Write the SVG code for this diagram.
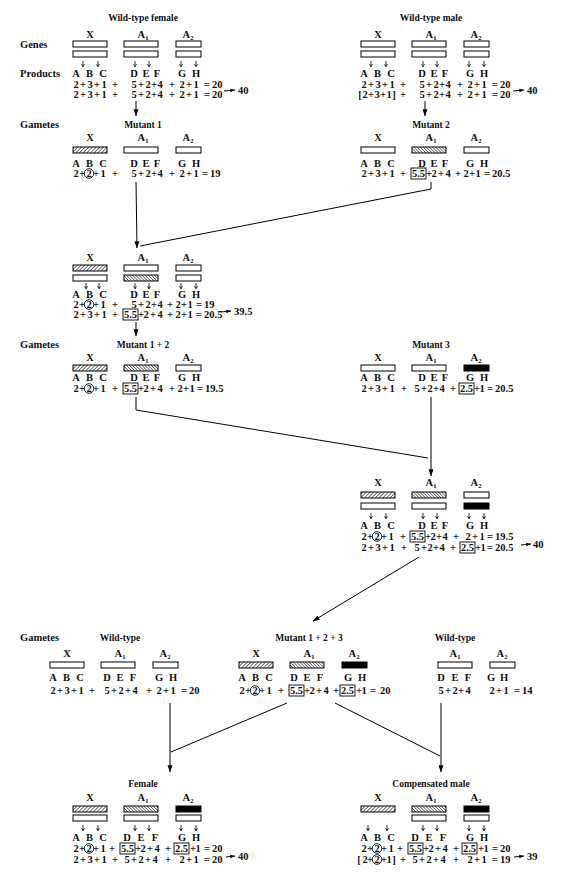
<svg xmlns="http://www.w3.org/2000/svg" width="564" height="880" viewBox="0 0 564 880">
<style>
text{font-family:"Liberation Serif","Times New Roman",serif;font-size:10.5px;fill:#111;font-weight:bold}
.c{text-anchor:middle}
.ttl{text-anchor:middle;font-size:9.5px}
.sub{font-size:6.5px}
.bx{fill:#fff;stroke:#000;stroke-width:1}
.hf{fill:url(#hf);stroke:#000;stroke-width:1}
.hb{fill:url(#hb);stroke:#000;stroke-width:1}
.bk{fill:#000;stroke:#000;stroke-width:1}
.ring{fill:none;stroke:#000;stroke-width:0.9}
.cn{fill:none;stroke:#000;stroke-width:1}
.sa{fill:none;stroke:#000;stroke-width:0.8}
</style>
<defs>
<pattern id="hf" patternUnits="userSpaceOnUse" width="2.6" height="2.6" patternTransform="rotate(45)"><rect width="2.6" height="2.6" fill="#fff"/><line x1="0" y1="0" x2="0" y2="2.6" stroke="#000" stroke-width="1.1"/></pattern>
<pattern id="hb" patternUnits="userSpaceOnUse" width="2.2" height="2.2" patternTransform="rotate(-45)"><rect width="2.2" height="2.2" fill="#fff"/><line x1="0" y1="0" x2="0" y2="2.2" stroke="#000" stroke-width="1"/></pattern>
<marker id="ah" viewBox="0 0 10 10" refX="9.5" refY="5" markerWidth="7" markerHeight="7" orient="auto" markerUnits="userSpaceOnUse"><path d="M0,1.5 L10,5 L0,8.5 Z" fill="#000"/></marker>
<marker id="ahs" viewBox="0 0 10 10" refX="9.5" refY="5" markerWidth="5" markerHeight="5" orient="auto" markerUnits="userSpaceOnUse"><path d="M0,1.5 L10,5 L0,8.5 Z" fill="#000"/></marker>
<path id="sa" class="sa" d="M0,0 V5.5 M-1.5,3.2 L0,5.8 L1.5,3.2"/>
</defs>
<rect width="564" height="880" fill="#fff"/>

<g id="row-labels">
<text x="20" y="48">Genes</text>
<text x="20" y="77">Products</text>
<text x="20" y="128">Gametes</text>
<text x="20" y="348">Gametes</text>
<text x="20" y="641">Gametes</text>
</g>

<g id="wt-female">
<text class="ttl" x="143" y="21">Wild-type female</text>
<text class="c" x="90" y="38">X</text>
<text class="c" x="143" y="38">A<tspan class="sub" dy="2">1</tspan></text>
<text class="c" x="188" y="38">A<tspan class="sub" dy="2">2</tspan></text>
<rect class="bx" x="73" y="41" width="34" height="6"/><rect class="bx" x="73" y="51" width="34" height="6"/>
<rect class="bx" x="124" y="41" width="34" height="6"/><rect class="bx" x="124" y="51" width="34" height="6"/>
<rect class="bx" x="176" y="41" width="25" height="6"/><rect class="bx" x="176" y="51" width="25" height="6"/>
<use href="#sa" x="83" y="61"/><use href="#sa" x="98" y="61"/><use href="#sa" x="135" y="61"/><use href="#sa" x="149" y="61"/><use href="#sa" x="181" y="61"/><use href="#sa" x="196" y="61"/>
<text class="c" x="76 89.5 103 134 146 157 182 196" y="77">ABCDEFGH</text>
<text class="c" x="76 83 90 97 104 115 134 141 148 154 160 172 182 189 196 207" y="88">2+3+1+5+2+4+2+1=</text><text x="212" y="88">20</text>
<text class="c" x="76 83 90 97 104 115 134 141 148 154 160 172 182 189 196 207" y="98">2+3+1+5+2+4+2+1=</text><text x="212" y="98">20</text>
<text x="238" y="94">40</text>
</g>

<g id="wt-male" transform="translate(288,0)">
<text class="ttl" x="143" y="21">Wild-type male</text>
<text class="c" x="90" y="38">X</text>
<text class="c" x="143" y="38">A<tspan class="sub" dy="2">1</tspan></text>
<text class="c" x="188" y="38">A<tspan class="sub" dy="2">2</tspan></text>
<rect class="bx" x="73" y="41" width="34" height="6"/><rect class="bx" x="73" y="51" width="34" height="6"/>
<rect class="bx" x="124" y="41" width="34" height="6"/><rect class="bx" x="124" y="51" width="34" height="6"/>
<rect class="bx" x="176" y="41" width="25" height="6"/><rect class="bx" x="176" y="51" width="25" height="6"/>
<use href="#sa" x="83" y="61"/><use href="#sa" x="98" y="61"/><use href="#sa" x="135" y="61"/><use href="#sa" x="149" y="61"/><use href="#sa" x="181" y="61"/><use href="#sa" x="196" y="61"/>
<text class="c" x="76 89.5 103 134 146 157 182 196" y="77">ABCDEFGH</text>
<text class="c" x="76 83 90 97 104 115 134 141 148 154 160 172 182 189 196 207" y="88">2+3+1+5+2+4+2+1=</text><text x="212" y="88">20</text>
<text class="c" x="72 77 83 89 95 101 106 115 134 141 148 154 160 172 182 189 196 207" y="98">[2+3+1]+5+2+4+2+1=</text><text x="212" y="98">20</text>
<text x="239" y="94">40</text>
</g>

<g id="mutant1">
<text class="ttl" x="143" y="128">Mutant 1</text>
<text class="c" x="90" y="141">X</text>
<text class="c" x="143" y="141">A<tspan class="sub" dy="2">1</tspan></text>
<text class="c" x="188" y="141">A<tspan class="sub" dy="2">2</tspan></text>
<rect class="hf" x="73" y="147" width="34" height="6"/><rect class="bx" x="124" y="147" width="34" height="6"/><rect class="bx" x="176" y="147" width="25" height="6"/>
<text class="c" x="76 89.5 103 134 146 157 182 196" y="167">ABCDEFGH</text>
<text class="c" x="76 82" y="177">2+</text>
<circle class="ring" cx="89" cy="173.5" r="4.8"/><text class="c" x="89" y="177">2</text>
<text class="c" x="96 103 115 134 141 148 154 160 172 182 189 196 205" y="177">+1+5+2+4+2+1=</text>
<text x="210" y="177">19</text>
</g>

<g id="mutant2" transform="translate(288,0)">
<text class="ttl" x="143" y="128">Mutant 2</text>
<text class="c" x="90" y="141">X</text>
<text class="c" x="143" y="141">A<tspan class="sub" dy="2">1</tspan></text>
<text class="c" x="188" y="141">A<tspan class="sub" dy="2">2</tspan></text>
<rect class="bx" x="73" y="147" width="34" height="6"/><rect class="hb" x="124" y="147" width="34" height="6"/><rect class="bx" x="176" y="147" width="25" height="6"/>
<text class="c" x="76 89.5 103 134 146 157 182 196" y="167">ABCDEFGH</text>
<text class="c" x="76 83 90 97 104 115" y="177">2+3+1+</text>
<rect class="ring" x="123" y="168" width="15" height="11"/><text class="c" x="130.5" y="177">5.5</text>
<text class="c" x="141 146 153 160 170 178 184 190 199" y="177">+2+4+2+1=</text>
<text x="204" y="177">20.5</text>
</g>

<g id="zygote-1x2">
<text class="c" x="90" y="261">X</text>
<text class="c" x="143" y="261">A<tspan class="sub" dy="2">1</tspan></text>
<text class="c" x="188" y="261">A<tspan class="sub" dy="2">2</tspan></text>
<rect class="hf" x="73" y="265" width="34" height="6"/><rect class="bx" x="73" y="275" width="34" height="6"/>
<rect class="bx" x="124" y="265" width="34" height="6"/><rect class="hb" x="124" y="275" width="34" height="6"/>
<rect class="bx" x="176" y="265" width="25" height="6"/><rect class="bx" x="176" y="275" width="25" height="6"/>
<use href="#sa" x="86" y="283"/><use href="#sa" x="99" y="283"/><use href="#sa" x="135" y="283"/><use href="#sa" x="149" y="283"/><use href="#sa" x="181" y="283"/><use href="#sa" x="196" y="283"/>
<text class="c" x="76 89.5 103 134 146 157 182 196" y="298">ABCDEFGH</text>
<text class="c" x="76 82" y="308">2+</text>
<circle class="ring" cx="89" cy="304.5" r="4.8"/><text class="c" x="89" y="308">2</text>
<text class="c" x="96 103 115 134 141 148 154 160 170 178 184 190 199" y="308">+1+5+2+4+2+1=</text>
<text x="204" y="308">19</text>
<text class="c" x="76 83 90 97 104 115" y="318">2+3+1+</text>
<rect class="ring" x="123" y="309" width="15" height="11"/><text class="c" x="130.5" y="318">5.5</text>
<text class="c" x="141 146 153 160 170 178 184 190 199" y="318">+2+4+2+1=</text>
<text x="204" y="318">20.5</text>
<text x="234" y="315">39.5</text>
</g>

<g id="mutant12">
<text class="ttl" x="143" y="348">Mutant 1 + 2</text>
<text class="c" x="90" y="361">X</text>
<text class="c" x="143" y="361">A<tspan class="sub" dy="2">1</tspan></text>
<text class="c" x="188" y="361">A<tspan class="sub" dy="2">2</tspan></text>
<rect class="hf" x="73" y="365" width="34" height="6"/><rect class="hb" x="124" y="365" width="34" height="6"/><rect class="bx" x="176" y="365" width="25" height="6"/>
<text class="c" x="76 89.5 103 134 146 157 182 196" y="381">ABCDEFGH</text>
<text class="c" x="76 82" y="392">2+</text>
<circle class="ring" cx="89" cy="388.5" r="4.8"/><text class="c" x="89" y="392">2</text>
<text class="c" x="96 103 115" y="392">+1+</text>
<rect class="ring" x="123" y="383" width="15" height="11"/><text class="c" x="130.5" y="392">5.5</text>
<text class="c" x="141 146 153 160 172 180 186 192 200" y="392">+2+4+2+1=</text>
<text x="205" y="392">19.5</text>
</g>

<g id="mutant3" transform="translate(288,0)">
<text class="ttl" x="143" y="348">Mutant 3</text>
<text class="c" x="90" y="361">X</text>
<text class="c" x="143" y="361">A<tspan class="sub" dy="2">1</tspan></text>
<text class="c" x="188" y="361">A<tspan class="sub" dy="2">2</tspan></text>
<rect class="bx" x="73" y="365" width="34" height="6"/><rect class="bx" x="124" y="365" width="34" height="6"/><rect class="bk" x="176" y="365" width="25" height="6"/>
<text class="c" x="76 89.5 103 134 146 157 182 196" y="381">ABCDEFGH</text>
<text class="c" x="76 83 90 97 104 116 129 136 142 148 154 165" y="392">2+3+1+5+2+4+</text>
<rect class="ring" x="171" y="383" width="15" height="11"/><text class="c" x="178.5" y="392">2.5</text>
<text class="c" x="189 194 202" y="392">+1=</text>
<text x="207" y="392">20.5</text>
</g>

<g id="zygote-12x3" transform="translate(288,0)">
<text class="c" x="90" y="486">X</text>
<text class="c" x="143" y="486">A<tspan class="sub" dy="2">1</tspan></text>
<text class="c" x="188" y="486">A<tspan class="sub" dy="2">2</tspan></text>
<rect class="hf" x="73" y="492" width="34" height="6"/><rect class="bx" x="73" y="503" width="34" height="6"/>
<rect class="hb" x="124" y="492" width="34" height="6"/><rect class="bx" x="124" y="503" width="34" height="6"/>
<rect class="bx" x="176" y="492" width="25" height="6"/><rect class="bk" x="176" y="503" width="25" height="6"/>
<use href="#sa" x="83" y="513"/><use href="#sa" x="98" y="513"/><use href="#sa" x="135" y="513"/><use href="#sa" x="149" y="513"/><use href="#sa" x="181" y="513"/><use href="#sa" x="196" y="513"/>
<text class="c" x="76 89.5 103 134 146 157 182 196" y="529">ABCDEFGH</text>
<text class="c" x="76 82" y="540">2+</text>
<circle class="ring" cx="89" cy="536.5" r="4.8"/><text class="c" x="89" y="540">2</text>
<text class="c" x="96 103 115" y="540">+1+</text>
<rect class="ring" x="122" y="531" width="15" height="11"/><text class="c" x="129.5" y="540">5.5</text>
<text class="c" x="140 145 151 157 168 180 187 194 202" y="540">+2+4+2+1=</text>
<text x="207" y="540">19.5</text>
<text class="c" x="76 83 90 97 104 116 129 136 142 148 154 165" y="551">2+3+1+5+2+4+</text>
<rect class="ring" x="172" y="542" width="15" height="11"/><text class="c" x="179.5" y="551">2.5</text>
<text class="c" x="190 195 202" y="551">+1=</text>
<text x="207" y="551">20.5</text>
<text x="245" y="548">40</text>
</g>

<g id="gamete-wt-left" transform="translate(-23,0)">
<text class="ttl" x="143" y="641">Wild-type</text>
<text class="c" x="90" y="657">X</text>
<text class="c" x="143" y="657">A<tspan class="sub" dy="2">1</tspan></text>
<text class="c" x="188" y="657">A<tspan class="sub" dy="2">2</tspan></text>
<rect class="bx" x="73" y="662" width="34" height="6"/><rect class="bx" x="124" y="662" width="34" height="6"/><rect class="bx" x="176" y="662" width="25" height="6"/>
<text class="c" x="76 89.5 103 130 143 156 182 196" y="681">ABCDEFGH</text>
<text class="c" x="76 83 90 97 104 115 130 137 144 151 158 172 182 189 196 207" y="694">2+3+1+5+2+4+2+1=</text><text x="212" y="694">20</text>
</g>

<g id="mutant123" transform="translate(166,0)">
<text class="ttl" x="143" y="641">Mutant 1 + 2 + 3</text>
<text class="c" x="90" y="657">X</text>
<text class="c" x="143" y="657">A<tspan class="sub" dy="2">1</tspan></text>
<text class="c" x="188" y="657">A<tspan class="sub" dy="2">2</tspan></text>
<rect class="hf" x="73" y="662" width="34" height="6"/><rect class="hb" x="124" y="662" width="34" height="6"/><rect class="bk" x="176" y="662" width="25" height="6"/>
<text class="c" x="76 89.5 103 128 141 154 182 196" y="681">ABCDEFGH</text>
<text class="c" x="76 82" y="694">2+</text>
<circle class="ring" cx="89" cy="690.5" r="4.8"/><text class="c" x="89" y="694">2</text>
<text class="c" x="96 103 115" y="694">+1+</text>
<rect class="ring" x="123" y="685" width="15" height="11"/><text class="c" x="130.5" y="694">5.5</text>
<text class="c" x="141 146 153 160 170" y="694">+2+4+</text>
<rect class="ring" x="174" y="685" width="15" height="11"/><text class="c" x="181.5" y="694">2.5</text>
<text class="c" x="193 198 207" y="694">+1=</text>
<text x="214" y="694">20</text>
</g>

<g id="gamete-wt-right" transform="translate(314,0)">
<text class="ttl" x="141" y="641">Wild-type</text>
<text class="c" x="141" y="657">A<tspan class="sub" dy="2">1</tspan></text>
<text class="c" x="188" y="657">A<tspan class="sub" dy="2">2</tspan></text>
<rect class="bx" x="124" y="662" width="34" height="6"/><rect class="bx" x="176" y="662" width="25" height="6"/>
<text class="c" x="127 141 154 177 190" y="681">DEFGH</text>
<text class="c" x="127 134 141 147 154" y="694">5+2+4</text>
<text class="c" x="178 185 192 203" y="694">2+1=</text><text x="208" y="694">14</text>
</g>

<g id="female">
<text class="ttl" x="143" y="787">Female</text>
<text class="c" x="90" y="801">X</text>
<text class="c" x="143" y="801">A<tspan class="sub" dy="2">1</tspan></text>
<text class="c" x="188" y="801">A<tspan class="sub" dy="2">2</tspan></text>
<rect class="hf" x="73" y="806" width="34" height="6"/><rect class="bx" x="73" y="815" width="34" height="6"/>
<rect class="hb" x="124" y="806" width="34" height="6"/><rect class="bx" x="124" y="815" width="34" height="6"/>
<rect class="bk" x="176" y="806" width="25" height="6"/><rect class="bx" x="176" y="815" width="25" height="6"/>
<use href="#sa" x="83" y="825"/><use href="#sa" x="98" y="825"/><use href="#sa" x="135" y="825"/><use href="#sa" x="149" y="825"/><use href="#sa" x="181" y="825"/><use href="#sa" x="196" y="825"/>
<text class="c" x="76 89.5 103 127 141 155 182 196" y="841">ABCDEFGH</text>
<text class="c" x="76 82" y="852">2+</text>
<circle class="ring" cx="89" cy="848.5" r="4.8"/><text class="c" x="89" y="852">2</text>
<text class="c" x="96 103 112" y="852">+1+</text>
<rect class="ring" x="120" y="843" width="15" height="11"/><text class="c" x="127.5" y="852">5.5</text>
<text class="c" x="138 143 150 157 168" y="852">+2+4+</text>
<rect class="ring" x="174" y="843" width="15" height="11"/><text class="c" x="181.5" y="852">2.5</text>
<text class="c" x="193 198 207" y="852">+1=</text>
<text x="212" y="852">20</text>
<text class="c" x="76 83 90 97 104 115 127 134 141 148 155 168 182 189 196 207" y="863">2+3+1+5+2+4+2+1=</text><text x="212" y="863">20</text>
<text x="238" y="860">40</text>
</g>

<g id="compensated-male" transform="translate(288,0)">
<text class="ttl" x="143" y="787">Compensated male</text>
<text class="c" x="90" y="801">X</text>
<text class="c" x="143" y="801">A<tspan class="sub" dy="2">1</tspan></text>
<text class="c" x="188" y="801">A<tspan class="sub" dy="2">2</tspan></text>
<rect class="hf" x="73" y="806" width="34" height="6"/>
<rect class="hb" x="124" y="806" width="34" height="6"/><rect class="bx" x="124" y="815" width="34" height="6"/>
<rect class="bk" x="176" y="806" width="25" height="6"/><rect class="bx" x="176" y="815" width="25" height="6"/>
<use href="#sa" x="80" y="825"/><use href="#sa" x="99" y="825"/><use href="#sa" x="135" y="825"/><use href="#sa" x="149" y="825"/><use href="#sa" x="181" y="825"/><use href="#sa" x="196" y="825"/>
<text class="c" x="76 89.5 103 127 141 155 182 196" y="841">ABCDEFGH</text>
<text class="c" x="76 82" y="852">2+</text>
<circle class="ring" cx="89" cy="848.5" r="4.8"/><text class="c" x="89" y="852">2</text>
<text class="c" x="96 103 112" y="852">+1+</text>
<rect class="ring" x="120" y="843" width="15" height="11"/><text class="c" x="127.5" y="852">5.5</text>
<text class="c" x="138 143 150 157 168" y="852">+2+4+</text>
<rect class="ring" x="174" y="843" width="15" height="11"/><text class="c" x="181.5" y="852">2.5</text>
<text class="c" x="193 198 207" y="852">+1=</text>
<text x="212" y="852">20</text>
<text class="c" x="71 77 82" y="863">[2+</text>
<circle class="ring" cx="89" cy="859.5" r="4.8"/><text class="c" x="89" y="863">2</text>
<text class="c" x="96 101 106 115 127 134 141 148 155 168 182 189 196 207" y="863">+1]+5+2+4+2+1=</text>
<text x="212" y="863">19</text>
<text x="239" y="860">39</text>
</g>

<g id="connectors" class="cn">
<line x1="224" y1="91" x2="235" y2="90" marker-end="url(#ahs)"/>
<line x1="513" y1="91" x2="524" y2="90" marker-end="url(#ahs)"/>
<line x1="136" y1="101" x2="136" y2="116" marker-end="url(#ah)"/>
<line x1="425" y1="101" x2="425" y2="116" marker-end="url(#ah)"/>
<line x1="136" y1="182" x2="137" y2="248" marker-end="url(#ah)"/>
<polyline points="431,182 431,189 140,246"/>
<line x1="221" y1="312" x2="231" y2="311" marker-end="url(#ahs)"/>
<line x1="136" y1="322" x2="136" y2="336" marker-end="url(#ah)"/>
<polyline points="136,397 136,410 428,458"/>
<line x1="431" y1="397" x2="431" y2="476" marker-end="url(#ah)"/>
<line x1="521" y1="545" x2="531" y2="544" marker-end="url(#ahs)"/>
<line x1="419" y1="557" x2="313" y2="621" marker-end="url(#ah)"/>
<line x1="170" y1="703" x2="170" y2="772" marker-end="url(#ah)"/>
<line x1="287" y1="703" x2="171" y2="752"/>
<line x1="335" y1="703" x2="440" y2="756"/>
<line x1="441" y1="703" x2="441" y2="772" marker-end="url(#ah)"/>
<line x1="226" y1="857" x2="235" y2="856" marker-end="url(#ahs)"/>
<line x1="514" y1="857" x2="524" y2="856" marker-end="url(#ahs)"/>
</g>
</svg>
